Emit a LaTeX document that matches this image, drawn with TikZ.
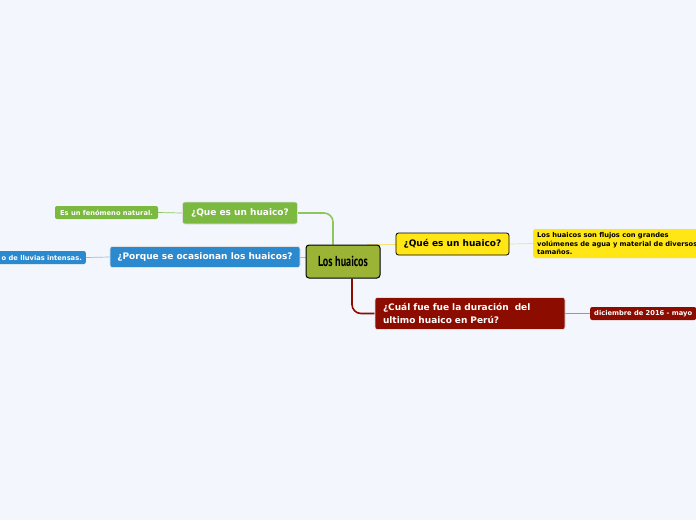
\documentclass[tikz,border=0pt]{standalone}
\usepackage{fontspec}
\setmainfont{DejaVu Sans}
\newfontfamily\narrowfont[FakeStretch=0.7]{PT Sans}
\usetikzlibrary{positioning,calc,backgrounds}
\definecolor{bgblue}{HTML}{F3F6FD}
\definecolor{rootgreen}{HTML}{9BB435}
\definecolor{topgreen}{HTML}{7BB940}
\definecolor{linegreen}{HTML}{8DC65A}
\definecolor{topblue}{HTML}{2B89D0}
\definecolor{lineblue}{HTML}{8FC0E8}
\definecolor{topyellow}{HTML}{FFE614}
\definecolor{lineyellow}{HTML}{F5E27A}
\definecolor{topred}{HTML}{8C0C00}
\definecolor{linered}{HTML}{B88A8A}
\tikzset{
  root/.style  ={draw=black,line width=1pt,fill=rootgreen,rounded corners=3pt,
                 minimum width=74pt,minimum height=33pt,inner sep=0pt,
                 font=\narrowfont\bfseries\fontsize{14.5}{16}\selectfont},
  topic/.style ={rounded corners=2.5pt,inner sep=0pt,text=white,
                 draw=black!12,line width=0.6pt,
                 font=\bfseries\fontsize{9}{12.5}\selectfont},
  leaf/.style  ={rounded corners=2pt,inner xsep=4pt,inner ysep=0pt,text=white,
                 minimum height=13pt,font=\bfseries\fontsize{6.7}{8.6}\selectfont},
  conn/.style  ={line width=1.6pt,rounded corners=9pt},
  thin/.style  ={line width=0.7pt},
}
\begin{document}
\begin{tikzpicture}[x=1pt,y=-1pt]
  \useasboundingbox (0,0) rectangle (696,520);
  % central topic
  \node[root] (root) at (343,261.5) {Los huaicos};
  % main topics
  \node[topic,fill=topgreen,minimum width=115pt,minimum height=22pt]
    (qgreen) at (240,213) {¿Que es un huaico?};
  \node[topic,fill=topblue,minimum width=190pt,minimum height=21pt]
    (qblue) at (205,257) {¿Porque se ocasionan los huaicos?};
  \node[topic,fill=topyellow,text=black,draw=black,line width=0.8pt,
    minimum width=113pt,minimum height=22pt]
    (qyellow) at (452.5,244) {¿Qué es un huaico?};
  \node[topic,fill=topred,minimum width=190pt,minimum height=32pt,
    inner xsep=8pt,align=left,text width=174pt]
    (qred) at (470,313.5) {¿Cuál fue fue la duración\ \ del\\ultimo huaico en Perú?};
  % sub topics
  \node[leaf,fill=topgreen,minimum width=103pt] (agreen) at (106.5,212.5)
    {Es un fenómeno natural.};
  \node[leaf,fill=topblue,anchor=east] (ablue) at (86,257.5)
    {o de lluvias intensas.};
  \node[leaf,fill=topyellow,text=black,anchor=west,align=left,
    minimum height=29pt] (ayellow) at (533,243.5)
    {Los huaicos son flujos con grandes\\volúmenes de agua y material de diversos\\tamaños.};
  \node[leaf,fill=topred,anchor=west] (ared) at (590,313.5)
    {diciembre de 2016 - mayo};
  % connectors
  \begin{scope}[on background layer]
    \fill[bgblue] (0,0) rectangle (696,520);
    \draw[conn,linegreen] ([xshift=-10pt]root.north) |- (qgreen.east);
    \draw[conn,topred] ([xshift=9pt]root.south) |- (qred.west);
    \draw[conn,lineblue,line width=1pt] (qblue.east) -- (qblue.east -| root.west);
    \draw[thin,lineyellow] ([xshift=24pt]root.north) |- (qyellow.west);
    \draw[thin,linegreen] (qgreen.west) -- (agreen.east);
    \draw[thin,lineblue] (qblue.west) -- (ablue.east);
    \draw[thin,lineyellow] (qyellow.east) -- (ayellow.west);
    \draw[thin,linered] (qred.east) -- (ared.west);
  \end{scope}
\end{tikzpicture}
\end{document}
